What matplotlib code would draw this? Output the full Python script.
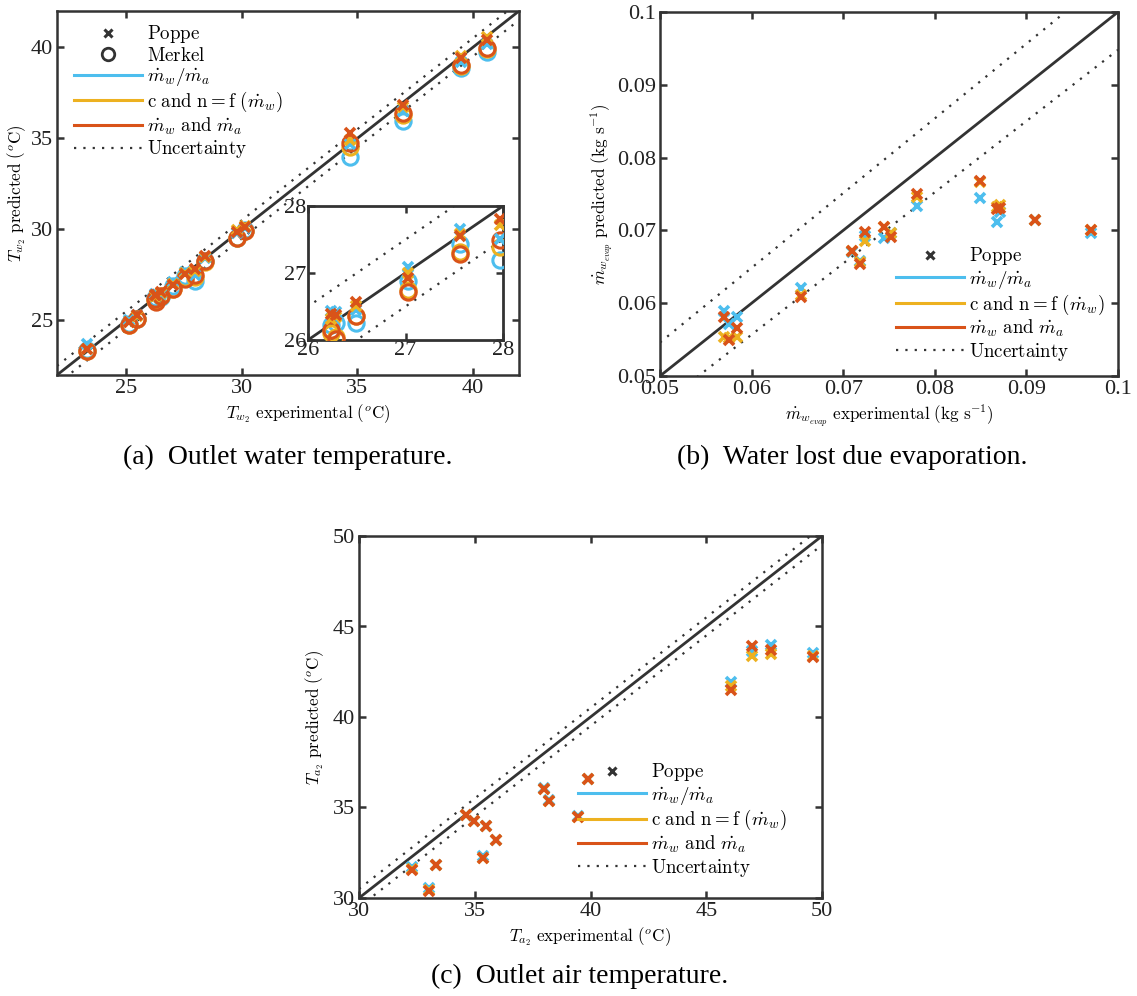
import matplotlib
matplotlib.use("Agg")
import matplotlib.pyplot as plt
from matplotlib.lines import Line2D
import numpy as np

plt.rcParams['mathtext.fontset'] = 'cm'
plt.rcParams['font.family'] = ['Liberation Serif', 'DejaVu Serif']

BLUE = '#4DBEEE'
YELLOW = '#EDB120'
ORANGE = '#D95319'
DARK = '#333333'

# ---------------- data ----------------
# (a) outlet water temperature
a_x = [23.3, 25.12, 25.46, 26.24, 26.29, 26.49, 27.03, 27.56, 27.97, 28.4, 29.8, 30.15, 34.68, 36.98, 39.5, 40.6]
a_poppe_blue = [23.7, 25.0, 25.3, 26.44, 26.42, 26.45, 27.09, 27.65, 27.5, 28.45, 29.8, 30.05, 34.7, 36.5, 39.2, 40.2]
a_poppe_yellow = [23.45, 24.9, 25.25, 26.32, 26.35, 26.5, 27.0, 27.58, 27.71, 28.5, 29.95, 30.2, 34.9, 36.7, 39.55, 40.55]
a_poppe_orange = [23.45, 24.9, 25.3, 26.39, 26.37, 26.57, 26.93, 27.55, 27.8, 28.55, 29.85, 30.15, 35.3, 36.85, 39.4, 40.4]
a_merkel_blue = [23.35, 24.8, 25.1, 26.22, 26.25, 26.26, 26.88, 27.43, 27.19, 28.25, 29.55, 29.95, 34.0, 35.95, 38.85, 39.75]
a_merkel_yellow = [23.3, 24.75, 25.05, 26.1, 26.05, 26.36, 26.75, 27.32, 27.39, 28.2, 29.5, 29.9, 34.5, 36.3, 39.0, 39.9]
a_merkel_orange = [23.3, 24.75, 25.05, 26.15, 26.02, 26.36, 26.72, 27.29, 27.49, 28.25, 29.5, 29.9, 34.75, 36.4, 39.05, 39.95]
a_lim = [22, 42]
a_unc = 0.5
a_ticks = [25, 30, 35, 40]
a_inset_lim = [26, 28]
a_inset_ticks = [26, 27, 28]

# (b) water lost due evaporation
b_x = [0.05695, 0.05756, 0.05839, 0.06542, 0.07093, 0.07183, 0.07233, 0.07442, 0.07522, 0.07803, 0.08498, 0.0868, 0.0871, 0.09099, 0.09705]
b_blue = [0.05896, 0.05712, 0.05804, 0.06208, 0.0670, 0.06585, 0.0692, 0.06897, 0.06961, 0.07329, 0.07444, 0.07113, 0.07251, 0.07145, 0.06961]
b_yellow = [0.05542, 0.0552, 0.05537, 0.0611, 0.06713, 0.0656, 0.06851, 0.07044, 0.06961, 0.07457, 0.0767, 0.0732, 0.07343, 0.07145, 0.07007]
b_orange = [0.05804, 0.05492, 0.05657, 0.06079, 0.06713, 0.06539, 0.06984, 0.07044, 0.06906, 0.07503, 0.07678, 0.07297, 0.0731, 0.07145, 0.07007]
b_lim = [0.05, 0.1]
b_unc_x = [0.05, 0.1]
b_unc_upper = [0.0546, 0.1059]
b_unc_lower = [0.0459, 0.0948]
b_ticks = [0.05, 0.06, 0.07, 0.08, 0.09, 0.1]
b_ticklabels = ['0.05', '0.06', '0.07', '0.08', '0.09', '0.1']

# (c) outlet air temperature
c_x = [32.31, 33.01, 33.32, 34.64, 34.96, 35.36, 35.48, 35.91, 38.00, 38.22, 39.44, 39.88, 46.06, 46.97, 47.81, 49.60]
c_blue = [31.71, 30.55, 31.85, 34.6, 34.27, 32.3, 34.0, 33.22, 36.05, 35.42, 34.54, 36.6, 41.96, 43.64, 43.99, 43.53]
c_yellow = [31.6, 30.42, 31.8, 34.56, 34.23, 32.21, 33.96, 33.18, 36.01, 35.38, 34.50, 36.56, 41.69, 43.38, 43.47, 43.35]
c_orange = [31.56, 30.37, 31.80, 34.56, 34.23, 32.21, 33.96, 33.18, 36.01, 35.38, 34.50, 36.56, 41.50, 43.93, 43.68, 43.31]
c_lim = [30, 50]
c_unc = 0.5
c_ticks = [30, 35, 40, 45, 50]

labels_series = [r'$\dot{m}_w/\dot{m}_a$',
                 r'$\mathrm{c\ and\ n} = \mathrm{f}\ (\dot{m}_w)$',
                 r'$\dot{m}_w\ \mathrm{and}\ \dot{m}_a$']
label_unc = r'$\mathrm{Uncertainty}$'

FS_TICK = 16
FS_LAB = 12.3
FS_LEG = 13.6
FS_CAP = 20

fig = plt.figure(figsize=(11.37, 9.96), dpi=100)


def style_axes(ax, lw=1.8):
    for s in ax.spines.values():
        s.set_linewidth(lw)
        s.set_color(DARK)
    ax.tick_params(direction='in', top=True, right=True, length=5, width=1.8,
                   color=DARK, labelsize=FS_TICK, labelcolor='#222222', pad=3)


def draw_ref(ax, lim, up_x, up_y, lo_x, lo_y):
    ax.plot(lim, lim, color=DARK, lw=2.0, zorder=2)
    ax.plot(up_x, up_y, color=DARK, lw=1.6, ls=(0, (1, 3.2)), zorder=2)
    ax.plot(lo_x, lo_y, color=DARK, lw=1.6, ls=(0, (1, 3.2)), zorder=2)


def poppe(ax, x, y, c, ms=7):
    ax.plot(x, y, ls='none', marker='x', color=c, ms=ms, mew=2.6, zorder=3)


def merkel(ax, x, y, c, ms=11):
    ax.plot(x, y, ls='none', marker='o', mfc='none', mec=c, ms=ms, mew=2.2, zorder=3)


def legend_handles(with_merkel):
    h = [Line2D([], [], ls='none', marker='x', color=DARK, ms=6, mew=2.2)]
    l = [r'$\mathrm{Poppe}$']
    if with_merkel:
        h.append(Line2D([], [], ls='none', marker='o', mfc='none', mec=DARK, ms=9, mew=2.0))
        l.append(r'$\mathrm{Merkel}$')
    for c in (BLUE, YELLOW, ORANGE):
        h.append(Line2D([], [], color=c, lw=2.2))
    l += labels_series
    h.append(Line2D([], [], color=DARK, lw=1.6, ls=(0, (1, 3.2))))
    l.append(label_unc)
    return h, l


LEG_KW = dict(frameon=False, fontsize=FS_LEG, handlelength=3.6, labelspacing=0.08,
              handletextpad=0.25)

# ---------------- (a) ----------------
axa = fig.add_axes([57 / 1137, 1 - 375 / 996, 462 / 1137, 364 / 996])
draw_ref(axa, a_lim, a_lim, [v + a_unc for v in a_lim], a_lim, [v - a_unc for v in a_lim])
for yv, c in ((a_merkel_blue, BLUE), (a_merkel_yellow, YELLOW), (a_merkel_orange, ORANGE)):
    merkel(axa, a_x, yv, c)
for yv, c in ((a_poppe_blue, BLUE), (a_poppe_yellow, YELLOW), (a_poppe_orange, ORANGE)):
    poppe(axa, a_x, yv, c)
axa.set_xlim(a_lim)
axa.set_ylim(a_lim)
axa.set_xticks(a_ticks)
axa.set_yticks(a_ticks)
style_axes(axa)
axa.set_xlabel(r'$T_{w_2}\ \mathrm{experimental}\ (^o\mathrm{C})$', fontsize=FS_LAB)
axa.set_ylabel(r'$T_{w_2}\ \mathrm{predicted}\ (^o\mathrm{C})$', fontsize=FS_LAB)
axa.xaxis.set_label_coords(0.5 + 20 / 462, -0.075)
axa.yaxis.set_label_coords(-0.063, 0.5)
h, l = legend_handles(True)
axa.legend(h, l, loc='upper left', bbox_to_anchor=(0.01, 1.0), borderaxespad=0.25, **LEG_KW)

# inset
axi = fig.add_axes([308 / 1137, 1 - 340 / 996, 195 / 1137, 134 / 996])
axi.plot(a_inset_lim, a_inset_lim, color=DARK, lw=2.0, zorder=2)
xx = [a_lim[0], a_lim[1]]
axi.plot(xx, [v + a_unc for v in xx], color=DARK, lw=1.6, ls=(0, (1, 3.2)), zorder=2)
axi.plot(xx, [v - a_unc for v in xx], color=DARK, lw=1.6, ls=(0, (1, 3.2)), zorder=2)
for yv, c in ((a_merkel_blue, BLUE), (a_merkel_yellow, YELLOW), (a_merkel_orange, ORANGE)):
    merkel(axi, a_x, yv, c)
for yv, c in ((a_poppe_blue, BLUE), (a_poppe_yellow, YELLOW), (a_poppe_orange, ORANGE)):
    poppe(axi, a_x, yv, c)
axi.set_xlim(a_inset_lim)
axi.set_ylim(a_inset_lim)
axi.set_xticks(a_inset_ticks)
axi.set_yticks(a_inset_ticks)
style_axes(axi, lw=2.0)
axi.tick_params(pad=1)

# ---------------- (b) ----------------
axb = fig.add_axes([660 / 1137, 1 - 376 / 996, 458 / 1137, 364 / 996])
draw_ref(axb, b_lim, b_unc_x, b_unc_upper, b_unc_x, b_unc_lower)
for yv, c in ((b_blue, BLUE), (b_yellow, YELLOW), (b_orange, ORANGE)):
    poppe(axb, b_x, yv, c)
axb.set_xlim(b_lim)
axb.set_ylim(b_lim)
axb.set_xticks(b_ticks)
axb.set_xticklabels(b_ticklabels)
axb.set_yticks(b_ticks)
axb.set_yticklabels(b_ticklabels)
style_axes(axb)
axb.set_xlabel(r'$\dot{m}_{w_{evap}}\ \mathrm{experimental}\ (\mathrm{kg\ s^{-1}})$', fontsize=FS_LAB)
axb.set_ylabel(r'$\dot{m}_{w_{evap}}\ \mathrm{predicted}\ (\mathrm{kg\ s^{-1}})$', fontsize=FS_LAB)
axb.xaxis.set_label_coords(0.5, -0.075)
axb.yaxis.set_label_coords(-0.098, 0.5)
h, l = legend_handles(False)
axb.legend(h, l, loc='lower right', bbox_to_anchor=(1.0, 0.0), borderaxespad=0.3, **LEG_KW)

# ---------------- (c) ----------------
axc = fig.add_axes([359 / 1137, 1 - 898 / 996, 463 / 1137, 362 / 996])
draw_ref(axc, c_lim, c_lim, [v + c_unc for v in c_lim], c_lim, [v - c_unc for v in c_lim])
for yv, c in ((c_blue, BLUE), (c_yellow, YELLOW), (c_orange, ORANGE)):
    poppe(axc, c_x, yv, c)
axc.set_xlim(c_lim)
axc.set_ylim(c_lim)
axc.set_xticks(c_ticks)
axc.set_yticks(c_ticks)
style_axes(axc)
axc.set_xlabel(r'$T_{a_2}\ \mathrm{experimental}\ (^o\mathrm{C})$', fontsize=FS_LAB)
axc.set_ylabel(r'$T_{a_2}\ \mathrm{predicted}\ (^o\mathrm{C})$', fontsize=FS_LAB)
axc.xaxis.set_label_coords(0.5, -0.075)
axc.yaxis.set_label_coords(-0.071, 0.5)
h, l = legend_handles(False)
axc.legend(h, l, loc='lower left', bbox_to_anchor=(0.445, 0.017), borderaxespad=0.3, **LEG_KW)

# ---------------- captions ----------------
fig.text(288 / 1137, 1 - 457 / 996, '(a)  Outlet water temperature.', ha='center', va='center', fontsize=FS_CAP)
fig.text(852 / 1137, 1 - 457 / 996, '(b)  Water lost due evaporation.', ha='center', va='center', fontsize=FS_CAP)
fig.text(580 / 1137, 1 - 976 / 996, '(c)  Outlet air temperature.', ha='center', va='center', fontsize=FS_CAP)

fig.savefig('out.png', dpi=100)
